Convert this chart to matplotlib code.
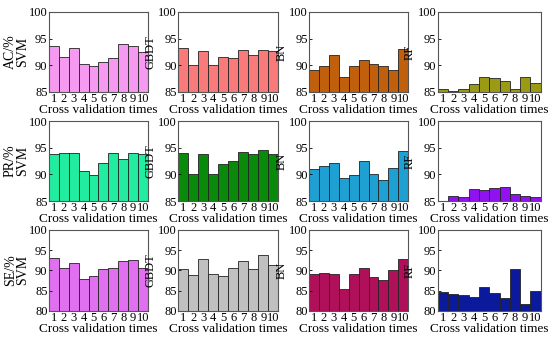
import numpy as np
import matplotlib
matplotlib.use("Agg")
import matplotlib.pyplot as plt

plt.rcParams['font.family'] = ['Liberation Serif', 'DejaVu Serif']

runs = list(range(1, 11))
models = ["SVM", "GBDT", "BN", "RF"]
metrics = ["AC/%", "PR/%", "SE/%"]

# AC
ac_svm = [93.7, 91.6, 93.3, 90.2, 89.9, 90.6, 91.4, 94.0, 93.7, 92.5]
ac_gbdt = [93.2, 90.0, 92.7, 90.0, 91.6, 91.3, 92.8, 91.9, 92.9, 92.6]
ac_bn = [89.2, 89.9, 91.9, 87.8, 89.8, 91.0, 90.2, 89.9, 89.1, 93.1]
ac_rf = [85.5, 85.1, 85.6, 86.5, 87.9, 87.6, 87.1, 85.6, 87.9, 86.7]
# PR
pr_svm = [93.9, 94.0, 94.1, 90.6, 89.9, 92.2, 94.0, 92.9, 94.1, 93.8]
pr_gbdt = [94.1, 90.1, 93.9, 90.0, 92.0, 92.5, 94.2, 93.9, 94.5, 93.8]
pr_bn = [91.0, 91.6, 92.2, 89.4, 89.9, 92.5, 90.1, 89.0, 91.2, 94.3]
pr_rf = [85.05, 85.9, 85.8, 87.2, 87.0, 87.5, 87.6, 86.4, 85.9, 85.7]
# SE
se_svm = [93.1, 90.7, 91.75, 87.75, 88.5, 90.25, 90.6, 92.25, 92.5, 90.7]
se_gbdt = [90.3, 88.9, 92.8, 89.0, 88.6, 90.7, 92.3, 90.3, 93.9, 91.4]
se_bn = [89.0, 89.45, 89.0, 85.5, 89.2, 90.7, 88.4, 87.7, 90.1, 92.7]
se_rf = [84.6, 84.25, 83.9, 83.4, 85.8, 84.4, 83.25, 90.3, 81.6, 84.9]

data = [[ac_svm, ac_gbdt, ac_bn, ac_rf],
        [pr_svm, pr_gbdt, pr_bn, pr_rf],
        [se_svm, se_gbdt, se_bn, se_rf]]
colors = [["#f59af0", "#f87a7a", "#c0600c", "#9a9a14"],
          ["#22eca0", "#0a8a0a", "#1ea0d2", "#9012f0"],
          ["#e070f0", "#c0c0c0", "#b0105a", "#0a1a9a"]]
ylims = [(85, 100), (85, 100), (80, 100)]
yticks = [[85, 90, 95, 100], [85, 90, 95, 100], [80, 85, 90, 95, 100]]

fig = plt.figure(figsize=(5.5, 3.42), dpi=100)
lefts = [0.089, 0.324, 0.562, 0.796]
widths = [0.18, 0.182, 0.18, 0.187]
bottoms = [0.731, 0.412, 0.091]
heights = [0.234, 0.234, 0.237]

for r in range(3):
    for c in range(4):
        ax = fig.add_axes([lefts[c], bottoms[r], widths[c], heights[r]])
        lo, hi = ylims[r]
        vals = np.array(data[r][c])
        ax.bar(runs, vals - lo, bottom=lo, width=1.0, color=colors[r][c],
               edgecolor="#222222", linewidth=0.6)
        ax.set_xlim(0.5, 10.5)
        ax.set_ylim(lo, hi)
        ax.set_yticks(yticks[r])
        ax.set_xticks(runs)
        ax.tick_params(axis='y', direction='in', length=2.5, width=0.6,
                       labelsize=9, pad=1)
        ax.tick_params(axis='x', length=0, labelsize=9, pad=1)
        for s in ax.spines.values():
            s.set_color("#555555")
            s.set_linewidth(0.8)
        ax.set_xlabel("Cross validation times", fontsize=9.5, labelpad=-1)
        if c == 0:
            ax.set_ylabel(metrics[r] + "\n" + models[c], fontsize=10,
                          labelpad=0, linespacing=0.9)
        else:
            ax.set_ylabel(models[c], fontsize=9, labelpad=0)
            ax.yaxis.set_label_coords(-0.22, 0.5)

fig.savefig("out.png", dpi=100)
